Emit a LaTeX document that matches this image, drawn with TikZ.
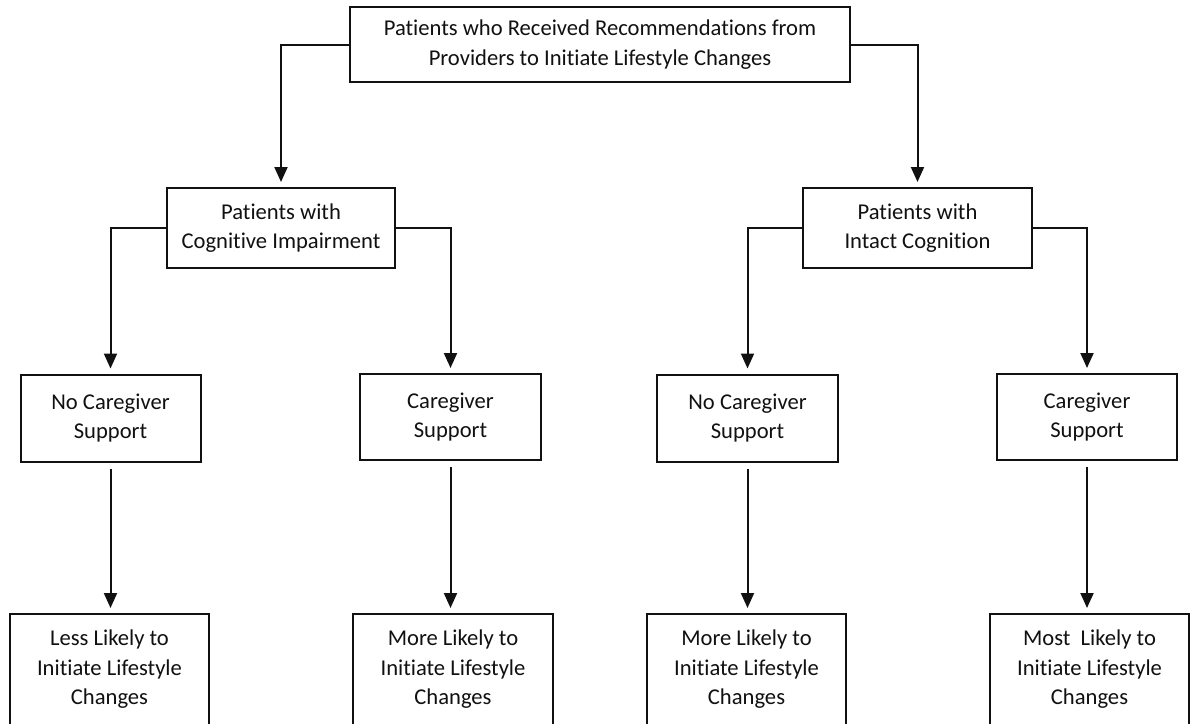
\documentclass[tikz,border=0pt]{standalone}
\usepackage{fontspec}
\setmainfont[Ligatures={NoCommon,NoContextual}]{Carlito}
\usetikzlibrary{arrows.meta}
\definecolor{ink}{HTML}{111111}
\begin{document}
\begin{tikzpicture}[x=1pt,y=-1pt,
  box/.style={draw=ink, line width=2pt, fill=white, align=center, inner sep=0pt,
    font=\fontsize{22.6}{29.5}\selectfont, text=ink},
  conn/.style={draw=ink, line width=2pt, -{Triangle[length=15pt,width=13pt]}, shorten >=5pt}]
\useasboundingbox (0,0) rectangle (1191,723);
\fill[white] (0,0) rectangle (1191,723);
\node[box, minimum width=500pt, minimum height=75pt] (top) at (600,44.5)
  {Patients who Received Recommendations from\\Providers to Initiate Lifestyle Changes};
\node[box, minimum width=228pt, minimum height=80pt] (cog) at (281,228)
  {Patients with\\Cognitive Impairment};
\node[box, minimum width=229pt, minimum height=80pt] (int) at (917.5,228)
  {Patients with\\Intact Cognition};
\node[box, minimum width=180pt, minimum height=87pt] (ra) at (110.5,418) {No Caregiver\\Support};
\node[box, minimum width=181pt, minimum height=86pt] (rb) at (450.5,417) {Caregiver\\Support};
\node[box, minimum width=181pt, minimum height=87pt] (rc) at (747.5,418) {No Caregiver\\Support};
\node[box, minimum width=180pt, minimum height=86pt] (rd) at (1087,417) {Caregiver\\Support};
\node[box, minimum width=199pt, minimum height=111pt] (fa) at (109.5,669.5) {Less Likely to\\Initiate Lifestyle\\Changes};
\node[box, minimum width=200pt, minimum height=111pt] (fb) at (453,669.5) {More Likely to\\Initiate Lifestyle\\Changes};
\node[box, minimum width=199pt, minimum height=111pt] (fc) at (746.5,669.5) {More Likely to\\Initiate Lifestyle\\Changes};
\node[box, minimum width=199pt, minimum height=111pt] (fd) at (1089.5,669.5) {Most~ Likely to\\Initiate Lifestyle\\Changes};
\draw[conn] (top.west) -| (cog.north);
\draw[conn] (top.east) -| (int.north);
\draw[conn] (cog.west) -| (ra.north);
\draw[conn] (cog.east) -| (rb.north);
\draw[conn] (int.west) -| (rc.north);
\draw[conn] (int.east) -| (rd.north);
\draw[conn, shorten <=6pt] (ra.south) -- (ra.south |- fa.north);
\draw[conn, shorten <=6pt] (rb.south) -- (rb.south |- fb.north);
\draw[conn, shorten <=6pt] (rc.south) -- (rc.south |- fc.north);
\draw[conn, shorten <=6pt] (rd.south) -- (rd.south |- fd.north);
\end{tikzpicture}
\end{document}
